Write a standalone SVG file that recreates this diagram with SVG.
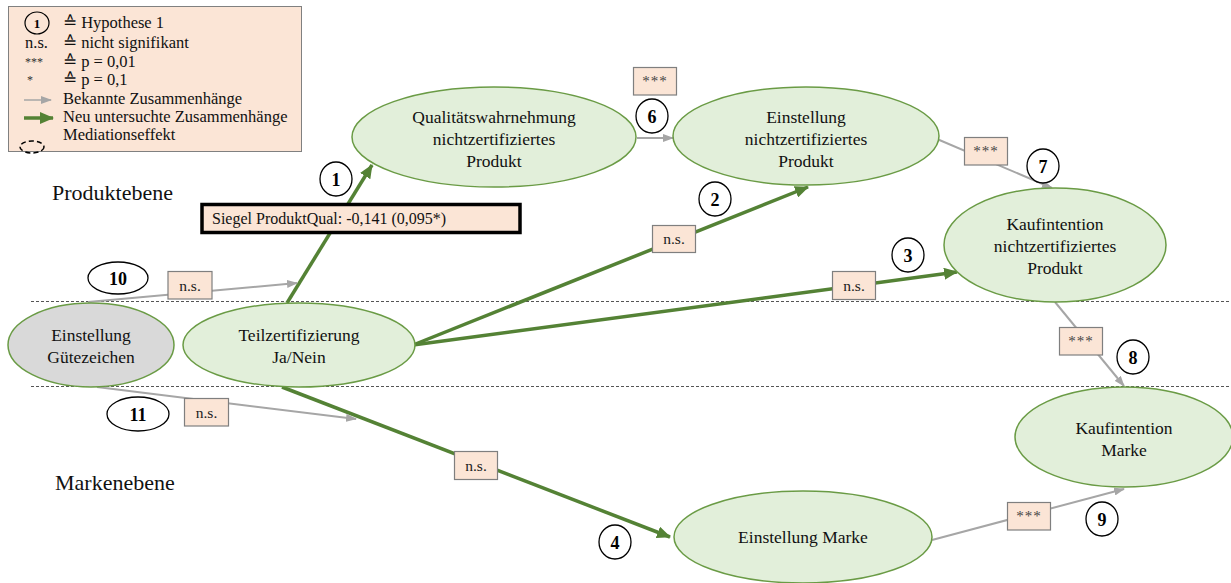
<svg xmlns="http://www.w3.org/2000/svg" width="1231" height="583" viewBox="0 0 1231 583">
  <defs>
    <marker id="arrowGreen" markerUnits="userSpaceOnUse" markerWidth="14" markerHeight="12" refX="13" refY="6" orient="auto">
      <path d="M0,0 L14,6 L0,12 z" fill="#548235"/>
    </marker>
    <marker id="arrowGray" markerUnits="userSpaceOnUse" markerWidth="11" markerHeight="8" refX="10" refY="4" orient="auto">
      <path d="M0,0 L11,4 L0,8 z" fill="#a6a6a6"/>
    </marker>
    <style>
      .node { fill: #e2efda; stroke: #6a9b45; stroke-width: 1.5; }
      .node-gray { fill: #d9d9d9; stroke: #6a9b45; stroke-width: 1.5; }
      .ntext { font-family: "Liberation Serif", "Times New Roman", serif; font-size: 17.5px; fill: #111; text-anchor: middle; }
      .green { stroke: #548235; stroke-width: 3.5; fill: none; marker-end: url(#arrowGreen); }
      .gray { stroke: #a6a6a6; stroke-width: 2; fill: none; marker-end: url(#arrowGray); }
      .lbl { fill: #fbe5d6; stroke: #7f7f7f; stroke-width: 1.2; }
      .lbltext { font-family: "Liberation Serif", "Times New Roman", serif; font-size: 15.5px; fill: #222; text-anchor: middle; }
      .stars { font-family: "Liberation Serif", "Times New Roman", serif; font-size: 15px; fill: #444; text-anchor: middle; letter-spacing: 1px; }
      .num { fill: #fff; stroke: #000; stroke-width: 1.3; }
      .numtext { font-family: "Liberation Serif", "Times New Roman", serif; font-size: 18px; font-weight: bold; fill: #000; text-anchor: middle; }
      .divider { stroke: #555; stroke-width: 1; stroke-dasharray: 3,2; }
      .level { font-family: "Liberation Serif", "Times New Roman", serif; font-size: 22px; fill: #111; }
      .legtext { font-family: "Liberation Serif", "DejaVu Serif", serif; font-size: 16.5px; fill: #111; }
    </style>
  </defs>

  <rect width="1231" height="583" fill="#fff"/>

  <!-- level dividers -->
  <line class="divider" x1="31" y1="301.5" x2="1231" y2="301.5"/>
  <line class="divider" x1="31" y1="386.5" x2="1231" y2="386.5"/>

  <!-- level captions -->
  <text class="level" x="52" y="200">Produktebene</text>
  <text class="level" x="55" y="490">Markenebene</text>

  <!-- legend -->
  <g id="legend">
    <rect x="8.5" y="6.5" width="293" height="145" fill="#fbe5d6" stroke="#808080" stroke-width="1"/>
    <ellipse cx="37" cy="23" rx="12" ry="11" fill="none" stroke="#000" stroke-width="1.2"/>
    <text x="37" y="28" font-family="Liberation Serif, serif" font-size="13" font-weight="bold" text-anchor="middle">1</text>
    <text class="legtext" x="63" y="28">≙ Hypothese 1</text>
    <text class="legtext" x="25" y="48">n.s.</text>
    <text class="legtext" x="63" y="48">≙  nicht signifikant</text>
    <text x="25" y="66" font-family="Liberation Serif, serif" font-size="12" fill="#333">***</text>
    <text class="legtext" x="63" y="67">≙ p = 0,01</text>
    <text x="27" y="84" font-family="Liberation Serif, serif" font-size="12" fill="#333">*</text>
    <text class="legtext" x="63" y="85">≙  p = 0,1</text>
    <line x1="24" y1="100" x2="51" y2="100" stroke="#a6a6a6" stroke-width="1.5" marker-end="url(#arrowGray)"/>
    <text class="legtext" x="63" y="104">Bekannte Zusammenhänge</text>
    <line x1="24" y1="118" x2="53" y2="118" stroke="#548235" stroke-width="3.5" marker-end="url(#arrowGreen)"/>
    <text class="legtext" x="63" y="122">Neu untersuchte Zusammenhänge</text>
    <ellipse cx="32" cy="147" rx="12" ry="6" fill="none" stroke="#000" stroke-width="1.5" stroke-dasharray="5,3"/>
    <text class="legtext" x="63" y="140">Mediationseffekt</text>
  </g>

  <!-- connectors with their significance labels and hypothesis numbers -->
  <g id="connectors">
    <line class="green" x1="287" y1="303" x2="372" y2="165"/>
    <line class="green" x1="413" y1="345" x2="808" y2="187"/>
    <line class="green" x1="413" y1="345" x2="957" y2="272"/>
    <line class="green" x1="282" y1="387" x2="670" y2="537"/>
    <line class="gray" x1="637" y1="138" x2="673" y2="138"/>
    <line class="gray" x1="937" y1="139" x2="1052" y2="188"/>
    <line class="gray" x1="1055" y1="302" x2="1124" y2="386"/>
    <line class="gray" x1="932" y1="540" x2="1124" y2="489"/>
    <line class="gray" x1="88" y1="302" x2="297" y2="283"/>
    <line class="gray" x1="97" y1="387" x2="356" y2="419"/>

    <!-- significance labels -->
    <rect class="lbl" x="168" y="271.5" width="44" height="27.5"/>
    <text class="lbltext" x="190" y="290.5">n.s.</text>
    <rect class="lbl" x="184.5" y="398.5" width="44" height="27.5"/>
    <text class="lbltext" x="206.5" y="417.5">n.s.</text>
    <rect class="lbl" x="652.5" y="225.5" width="43" height="27"/>
    <text class="lbltext" x="674" y="244">n.s.</text>
    <rect class="lbl" x="832.5" y="271.5" width="43" height="28"/>
    <text class="lbltext" x="854" y="290.5">n.s.</text>
    <rect class="lbl" x="454.5" y="451.5" width="43" height="28"/>
    <text class="lbltext" x="476" y="470.5">n.s.</text>
    <rect class="lbl" x="633.5" y="67.5" width="43" height="27.5"/>
    <text class="stars" x="655" y="86">***</text>
    <rect class="lbl" x="964.5" y="137.5" width="43" height="27.5"/>
    <text class="stars" x="986" y="156">***</text>
    <rect class="lbl" x="1059.5" y="327.5" width="43" height="27.5"/>
    <text class="stars" x="1081" y="346">***</text>
    <rect class="lbl" x="1007.5" y="502.5" width="43" height="27.5"/>
    <text class="stars" x="1029" y="521">***</text>

    <!-- estimate box on hypothesis 1 -->
    <rect x="202" y="204.5" width="318" height="28" fill="#fbe5d6" stroke="#000" stroke-width="3.5"/>
    <text x="212" y="224" font-family="Liberation Serif, Times New Roman, serif" font-size="16" fill="#111">Siegel ProduktQual: -0,141 (0,095*)</text>

    <!-- hypothesis numbers -->
    <ellipse class="num" cx="336" cy="179" rx="16" ry="17"/>
    <text class="numtext" x="336" y="185.5">1</text>
    <ellipse class="num" cx="715" cy="199" rx="16" ry="17"/>
    <text class="numtext" x="715" y="205.5">2</text>
    <ellipse class="num" cx="908" cy="255" rx="16" ry="17"/>
    <text class="numtext" x="908" y="261.5">3</text>
    <ellipse class="num" cx="615" cy="542" rx="16" ry="17"/>
    <text class="numtext" x="615" y="548.5">4</text>
    <ellipse class="num" cx="652" cy="116" rx="16" ry="17"/>
    <text class="numtext" x="652" y="122.5">6</text>
    <ellipse class="num" cx="1043" cy="166" rx="16" ry="17"/>
    <text class="numtext" x="1043" y="172.5">7</text>
    <ellipse class="num" cx="1133" cy="357" rx="16" ry="17"/>
    <text class="numtext" x="1133" y="363.5">8</text>
    <ellipse class="num" cx="1102" cy="519" rx="16" ry="17"/>
    <text class="numtext" x="1102" y="525.5">9</text>
    <ellipse class="num" cx="118" cy="278" rx="30" ry="16"/>
    <text class="numtext" x="118" y="284.5">10</text>
    <ellipse class="num" cx="138" cy="414" rx="31" ry="17"/>
    <text class="numtext" x="138" y="420.5">11</text>
  </g>

  <!-- nodes -->
  <g id="node-guetezeichen">
    <ellipse class="node-gray" cx="91" cy="345" rx="83" ry="42"/>
    <text class="ntext" x="91" y="341">Einstellung</text>
    <text class="ntext" x="91" y="363">Gütezeichen</text>
  </g>
  <g id="node-teilzert">
    <ellipse class="node" cx="299" cy="345" rx="116" ry="42"/>
    <text class="ntext" x="299" y="341">Teilzertifizierung</text>
    <text class="ntext" x="299" y="363">Ja/Nein</text>
  </g>
  <g id="node-qualitaet">
    <ellipse class="node" cx="494" cy="137" rx="142" ry="50"/>
    <text class="ntext" x="494" y="123">Qualitätswahrnehmung</text>
    <text class="ntext" x="494" y="145">nichtzertifiziertes</text>
    <text class="ntext" x="494" y="167">Produkt</text>
  </g>
  <g id="node-einstellung-produkt">
    <ellipse class="node" cx="806" cy="136" rx="133" ry="49"/>
    <text class="ntext" x="806" y="123">Einstellung</text>
    <text class="ntext" x="806" y="145">nichtzertifiziertes</text>
    <text class="ntext" x="806" y="167">Produkt</text>
  </g>
  <g id="node-kauf-produkt">
    <ellipse class="node" cx="1055" cy="245" rx="111" ry="57"/>
    <text class="ntext" x="1055" y="230">Kaufintention</text>
    <text class="ntext" x="1055" y="252">nichtzertifiziertes</text>
    <text class="ntext" x="1055" y="274">Produkt</text>
  </g>
  <g id="node-kauf-marke">
    <ellipse class="node" cx="1124" cy="437" rx="109" ry="50"/>
    <text class="ntext" x="1124" y="434">Kaufintention</text>
    <text class="ntext" x="1124" y="456">Marke</text>
  </g>
  <g id="node-einstellung-marke">
    <ellipse class="node" cx="803" cy="537" rx="129" ry="46"/>
    <text class="ntext" x="803" y="543">Einstellung Marke</text>
  </g>
</svg>
